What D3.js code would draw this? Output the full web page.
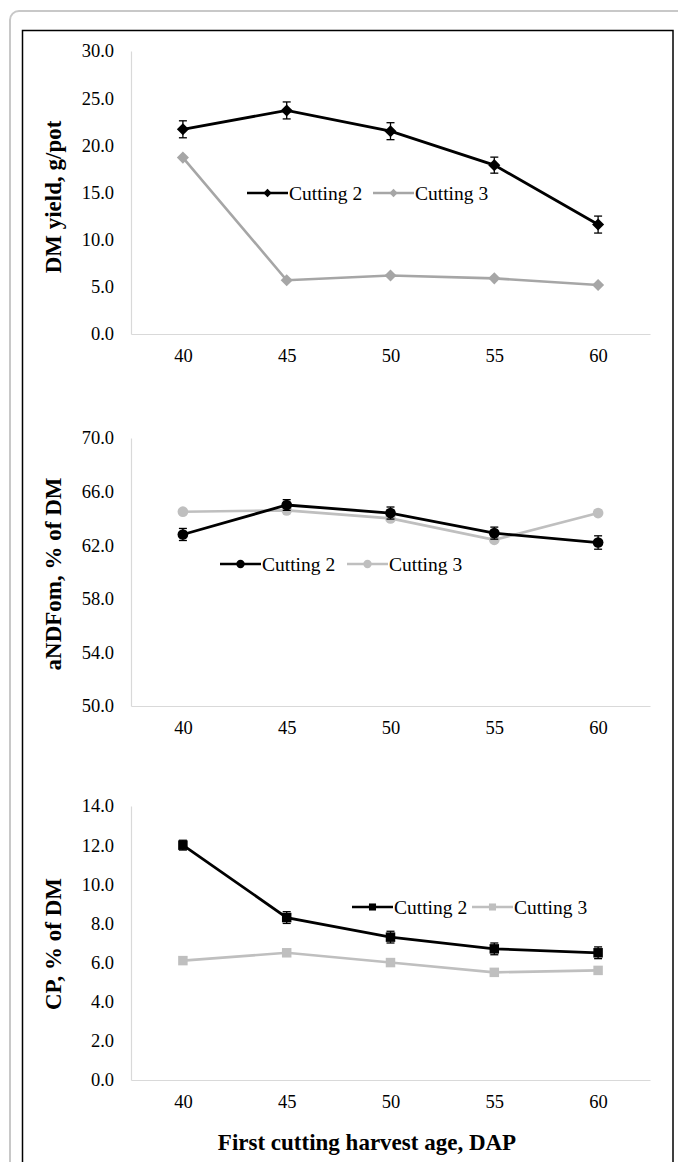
<!DOCTYPE html>
<html>
<head>
<meta charset="utf-8">
<script src="https://cdn.jsdelivr.net/npm/d3@7"></script>
<style>
  html, body { margin: 0; padding: 0; background: #fff; }
  svg { display: block; }
  text { font-family: "Liberation Serif", "Times New Roman", serif; fill: #000; }
</style>
</head>
<body>
<svg id="chart" width="678" height="1162"></svg>
<script>
// ---- data ----
const days = [40, 45, 50, 55, 60];
const seriesNames = ["Cutting 2", "Cutting 3"];

const dmCut2 = [21.7, 23.7, 21.5, 17.9, 11.6];
const dmCut2Err = [0.9, 0.9, 0.9, 0.85, 0.9];
const dmCut3 = [18.7, 5.7, 6.2, 5.9, 5.2];
const dmTicks = [0, 5, 10, 15, 20, 25, 30];

const ndfCut2 = [62.8, 65.0, 64.4, 62.9, 62.2];
const ndfCut2Err = [0.45, 0.4, 0.45, 0.45, 0.5];
const ndfCut3 = [64.5, 64.6, 64.0, 62.4, 64.4];
const ndfTicks = [50, 54, 58, 62, 66, 70];

const cpCut2 = [12.0, 8.3, 7.3, 6.7, 6.5];
const cpCut2Err = [0.25, 0.3, 0.3, 0.3, 0.3];
const cpCut3 = [6.1, 6.5, 6.0, 5.5, 5.6];
const cpTicks = [0, 2, 4, 6, 8, 10, 12, 14];

const yTitles = ["DM yield, g/pot", "aNDFom, % of DM", "CP, % of DM"];
const xTitle = "First cutting harvest age, DAP";

// ---- layout ----
const FONT = '"Liberation Serif", "Times New Roman", serif';
const svg = d3.select("#chart");

svg.append("rect").attr("x", 10).attr("y", 11).attr("width", 720).attr("height", 1200)
  .attr("rx", 9).attr("fill", "none").attr("stroke", "#c8c8c8").attr("stroke-width", 2);
svg.append("rect").attr("x", 22.5).attr("y", 30.5).attr("width", 650.5).attr("height", 1200)
  .attr("fill", "none").attr("stroke", "#000").attr("stroke-width", 1.5);

const x = d3.scalePoint().domain(days).range([131, 650]).padding(0.5);

const panels = [
  { c2: dmCut2, err: dmCut2Err, c3: dmCut3, ticks: dmTicks, domain: [0, 30], range: [334, 51],
    marker: "diamond", gray: "#a6a6a6", title: yTitles[0], titleY: 197,
    legend: { y: 193, x1: 247, x2: 373 } },
  { c2: ndfCut2, err: ndfCut2Err, c3: ndfCut3, ticks: ndfTicks, domain: [50, 70], range: [706, 438],
    marker: "circle", gray: "#bfbfbf", title: yTitles[1], titleY: 574,
    legend: { y: 564, x1: 220, x2: 347 } },
  { c2: cpCut2, err: cpCut2Err, c3: cpCut3, ticks: cpTicks, domain: [0, 14], range: [1080, 806],
    marker: "square", gray: "#bfbfbf", title: yTitles[2], titleY: 944,
    legend: { y: 907, x1: 352, x2: 472 } }
];

const symbolSizes = { diamond: 95, circle: 90, square: 90 };
const legendSizes = { diamond: 45, circle: 55, square: 50 };

function symbolPath(type, size) {
  if (type === "diamond") {
    const s = Math.sqrt(size) * 0.62;
    return `M0,${-s}L${s},0L0,${s}L${-s},0Z`;
  }
  if (type === "square") {
    const s = Math.sqrt(size) / 2;
    return `M${-s},${-s}H${s}V${s}H${-s}Z`;
  }
  return d3.symbol().type(d3.symbolCircle).size(size)();
}

panels.forEach(p => {
  const y = d3.scaleLinear().domain(p.domain).range(p.range);
  const g = svg.append("g");

  // y axis
  const ya = g.append("g").attr("transform", "translate(131,0)")
    .call(d3.axisLeft(y).tickValues(p.ticks).tickFormat(d3.format(".1f")).tickSize(0).tickPadding(17).tickSizeOuter(0));
  ya.attr("font-family", FONT).attr("font-size", 18.5);
  ya.select(".domain").attr("stroke", "#d9d9d9").attr("stroke-width", 1.2);
  ya.selectAll("text").attr("fill", "#000");

  // x axis
  const xa = g.append("g").attr("transform", `translate(0,${p.range[0]})`)
    .call(d3.axisBottom(x).tickSize(0).tickPadding(15).tickSizeOuter(0));
  xa.attr("font-family", FONT).attr("font-size", 18.5);
  xa.select(".domain").attr("stroke", "#d9d9d9").attr("stroke-width", 1.2);
  xa.selectAll("text").attr("fill", "#000");

  // y title
  g.append("text")
    .attr("transform", `translate(61,${p.titleY}) rotate(-90)`)
    .attr("text-anchor", "middle")
    .style("font-size", "23px").style("font-weight", "bold")
    .text(p.title);

  const line = d3.line().x((d, i) => x(days[i])).y(d => y(d));

  // Cutting 3 (gray)
  g.append("path").datum(p.c3).attr("d", line).attr("fill", "none")
    .attr("stroke", p.gray).attr("stroke-width", 2.6);
  g.selectAll(".m3").data(p.c3).enter().append("path")
    .attr("transform", (d, i) => `translate(${x(days[i])},${y(d)})`)
    .attr("d", symbolPath(p.marker, symbolSizes[p.marker])).attr("fill", p.gray);

  // Cutting 2 (black)
  g.append("path").datum(p.c2).attr("d", line).attr("fill", "none")
    .attr("stroke", "#000").attr("stroke-width", 2.8);
  p.c2.forEach((d, i) => {
    const cx = x(days[i]);
    const y1 = y(d - p.err[i]), y2 = y(d + p.err[i]);
    g.append("line").attr("x1", cx).attr("x2", cx).attr("y1", y1).attr("y2", y2)
      .attr("stroke", "#000").attr("stroke-width", 1.3);
    [y1, y2].forEach(yy => g.append("line").attr("x1", cx - 4).attr("x2", cx + 4)
      .attr("y1", yy).attr("y2", yy).attr("stroke", "#000").attr("stroke-width", 1.3));
  });
  g.selectAll(".m2").data(p.c2).enter().append("path")
    .attr("transform", (d, i) => `translate(${x(days[i])},${y(d)})`)
    .attr("d", symbolPath(p.marker, symbolSizes[p.marker])).attr("fill", "#000");

  // legend
  const lg = [{ x: p.legend.x1, color: "#000" }, { x: p.legend.x2, color: p.gray }];
  lg.forEach((L, k) => {
    g.append("line").attr("x1", L.x).attr("x2", L.x + 41).attr("y1", p.legend.y).attr("y2", p.legend.y)
      .attr("stroke", L.color).attr("stroke-width", 2.6);
    g.append("path").attr("transform", `translate(${L.x + 20.5},${p.legend.y})`)
      .attr("d", symbolPath(p.marker, legendSizes[p.marker])).attr("fill", L.color);
    g.append("text").attr("x", L.x + 42).attr("y", p.legend.y).attr("dy", "0.35em")
      .style("font-size", "19.5px").text(seriesNames[k]);
  });
});

// x title
svg.append("text").attr("x", 367).attr("y", 1150).attr("text-anchor", "middle")
  .style("font-size", "23px").style("font-weight", "bold").text(xTitle);
</script>
</body>
</html>
